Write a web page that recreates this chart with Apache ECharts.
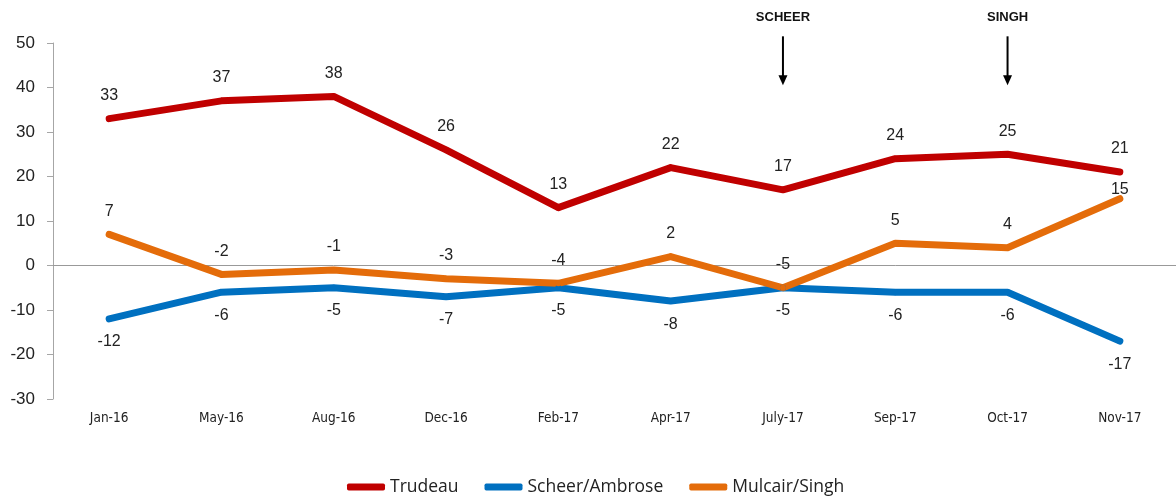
<!DOCTYPE html>
<html><head><meta charset="utf-8">
<script src="https://cdn.jsdelivr.net/npm/echarts@6/dist/echarts.min.js"></script>
<style>html,body{margin:0;padding:0;background:#fff}#c{width:1176px;height:497px}</style>
</head><body><div id="c"></div>
<script>
const categories = ['Jan-16','May-16','Aug-16','Dec-16','Feb-17','Apr-17','July-17','Sep-17','Oct-17','Nov-17'];
const trudeau = [33,37,38,26,13,22,17,24,25,21];
const scheer = [-12,-6,-5,-7,-5,-8,-5,-6,-6,-17];
const mulcair = [7,-2,-1,-3,-4,2,-5,5,4,15];
const annotations = [{name:'SCHEER', cat:'July-17'},{name:'SINGH', cat:'Oct-17'}];

const chart = echarts.init(document.getElementById('c'));
const labelFont = {fontFamily:'Liberation Sans', fontSize:16, color:'#222'};
function mk(name, data, color, pos, dist){
  return {name, type:'line', data, symbol:'circle', symbolSize:6, showSymbol:true,
    itemStyle:{color}, lineStyle:{width:7, color, cap:'round', join:'round'},
    label:{show:true, position:pos, distance:dist, ...labelFont}, z: 3};
}
const s1 = mk('Trudeau', trudeau, '#C00000', 'top', 12);
const s2 = mk('Scheer/Ambrose', scheer, '#0070C0', 'bottom', 12);
// last Mulcair/Singh label sits close to its point, as in the original
const mulcairData = mulcair.map((v,i)=> i === mulcair.length-1 ? {value:v, label:{distance:-2}} : v);
const s3 = mk('Mulcair/Singh', mulcairData, '#E46C0A', 'top', 12);
s1.markLine = {silent:true, symbol:'none', label:{show:false}, lineStyle:{color:'#999', width:1, type:'solid'}, data:[{yAxis:0}], z:1};
chart.setOption({
  animation:false,
  grid:{left:53, right:-10, top:43, bottom:98},
  legend:{top:473, left:342, itemWidth:38, itemHeight:7, itemGap:26, icon:'roundRect',
    textStyle:{fontFamily:'Open Sans', fontSize:17.5, color:'#222'},
    data:['Trudeau','Scheer/Ambrose','Mulcair/Singh']},
  xAxis:{type:'category', data:categories, boundaryGap:true,
    axisLine:{show:false, onZero:false}, axisTick:{show:false},
    axisLabel:{margin:12, fontFamily:'DejaVu Sans Condensed', fontSize:13.5, color:'#222', interval:0}},
  yAxis:{type:'value', min:-30, max:50, interval:10,
    axisLine:{show:true, lineStyle:{color:'#A6A6A6', width:1}},
    axisTick:{show:true, length:6, lineStyle:{color:'#A6A6A6'}},
    splitLine:{show:false},
    axisLabel:{margin:18, fontFamily:'Liberation Sans', fontSize:17, color:'#222'}},
  series:[s1, s2, s3]
});
const g = [];
annotations.forEach(a=>{
  const x = chart.convertToPixel({xAxisIndex:0}, a.cat);
  const yTop = chart.convertToPixel({yAxisIndex:0}, 51.5);
  const yBot = chart.convertToPixel({yAxisIndex:0}, 40.5);
  g.push({type:'text', position:[x,11], style:{text:a.name, x:0, y:0, textAlign:'center', fill:'#111', font:'bold 13px Liberation Sans'}});
  g.push({type:'line', shape:{x1:x, y1:yTop, x2:x, y2:yBot-9}, style:{stroke:'#000', lineWidth:2}});
  g.push({type:'polygon', shape:{points:[[x-4.5,yBot-10],[x+4.5,yBot-10],[x,yBot]]}, style:{fill:'#000'}});
});
chart.setOption({graphic:g});
</script></body></html>
